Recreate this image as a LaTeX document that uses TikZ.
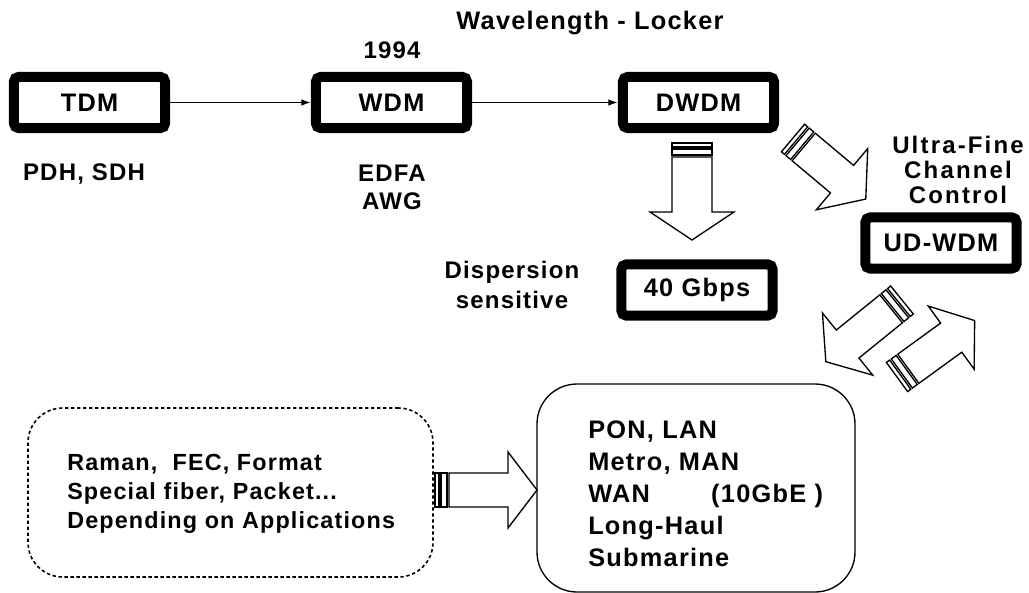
\documentclass[tikz,border=0pt]{standalone}
\usepackage{fontspec}
\setmainfont{Liberation Sans}[LetterSpace=5]
\newfontfamily\widesans{Liberation Sans}[LetterSpace=9]
\usetikzlibrary{arrows.meta, positioning}

\tikzset{
  tbox/.style={draw=black, fill=white, line width=7.5pt, rounded corners=4pt,
    minimum width=113.6pt, minimum height=38.6pt, inner sep=0pt,
    font=\fontsize{19}{22}\selectfont\bfseries},
  lbl/.style={font=\fontsize{18}{21}\selectfont\bfseries, align=center, inner sep=0pt},
  link/.style={line width=1.1pt, -{Latex[length=7pt,width=5pt]}},
  fatline/.style={draw=black, fill=white, line width=1pt},
  dashbox/.style={draw=black, line width=1.2pt, dash pattern=on 2.5pt off 2pt,
    rounded corners=26pt, minimum width=303.75pt, minimum height=126.75pt},
  solidbox/.style={draw=black, line width=1pt, rounded corners=30pt,
    minimum width=238.5pt, minimum height=156pt},
  listtxt/.style={font=\fontsize{17.5}{21.75}\selectfont\bfseries, align=left, inner sep=0pt}
}

% block arrow: tail, angle, length, body half width, head half width, head length
\newcommand{\fatarrow}[6]{%
  \begin{scope}[shift={#1}, rotate=#2]
    \draw[fatline] (0,-#4) rectangle (4,#4);
    \draw[fatline] (6,-#4) rectangle (12,#4);
    \draw[fatline] (14,-#4) -- ({#3-#6},-#4) -- ({#3-#6},-#5) -- (#3,0)
      -- ({#3-#6},#5) -- ({#3-#6},#4) -- (14,#4) -- cycle;
  \end{scope}}

\begin{document}
\begin{tikzpicture}[x=0.75pt, y=-0.75pt]
\useasboundingbox (0,0) rectangle (1029,593);

% top row
\node[tbox] (tdm) at (89.5,102.5) {TDM};
\node[tbox] (wdm) at (391.5,102.5) {WDM};
\node[tbox] (dwdm) at (698.5,102.5) {DWDM};
\draw[link] (tdm) -- (wdm);
\draw[link] (wdm) -- (dwdm);

\node[lbl, font=\fontsize{19}{21}\selectfont\bfseries] (locker) at (590,23) {Wavelength - Locker};
\node[lbl] (year) at (392,50) {1994};
\node[lbl] (pdh) at (84,174) {PDH, SDH};
\node[lbl] (edfa) at (392,187) {EDFA\\AWG};

% right side
\node[tbox] (gbps) at (697,290) {40 Gbps};
\node[tbox] (udwdm) at (941,243) {UD-WDM};
\node[lbl, font=\widesans\fontsize{18}{19}\selectfont\bfseries] (ufc) at (958,170) {Ultra-Fine\\Channel\\Control};
\node[lbl, font=\fontsize{18}{22.5}\selectfont\bfseries] (disp) at (512,285) {Dispersion\\sensitive};

\fatarrow{(692,143)}{-90}{97}{20}{42}{28}
\fatarrow{(793,138)}{-40}{95}{18}{40}{31}
\fatarrow{(902,300)}{-141}{98}{18}{40}{28}
\fatarrow{(897,377)}{36}{96}{18}{39}{29}

% bottom
\node[dashbox] (tech) at (230.5,492.5) {};
\node[listtxt, anchor=west] (techlist) at (67,494)
  {Raman,\ \ FEC, Format\\Special fiber, Packet...\\Depending on Applications};
\node[solidbox] (nets) at (696,488) {};
\node[listtxt, font=\fontsize{19}{24}\selectfont\bfseries, anchor=west] (netlist) at (588,494)
  {PON, LAN\\Metro, MAN\\WAN\hspace{46pt}(10GbE )\\Long-Haul\\Submarine};
\fatarrow{(435,490)}{0}{102}{17}{38}{29}
\end{tikzpicture}
\end{document}
